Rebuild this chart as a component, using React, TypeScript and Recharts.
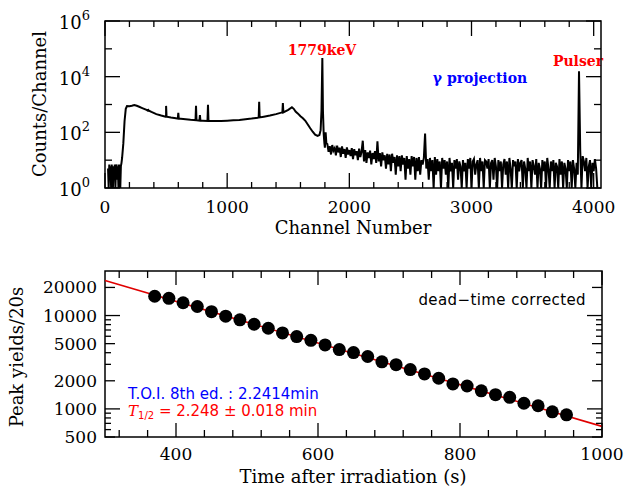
import React from 'react';
import {
  LineChart,
  ComposedChart,
  Line,
  Scatter,
  XAxis,
  YAxis,
  ReferenceArea,
  Customized,
} from 'recharts';

// ---- top panel: gamma spectrum ----
const contChannels = [
  25, 30, 35, 40, 45, 50, 55, 60, 65, 70, 75, 80, 85, 90, 95, 100, 105, 110, 115, 120, 125,
  130, 135, 140, 150, 160, 170, 180, 200, 220, 240,
  260, 280, 300, 340, 380, 420, 460, 500, 540, 580, 620, 660, 700, 750, 800, 850, 900, 950,
  1000, 1050, 1100, 1150, 1200, 1250, 1300, 1350, 1400, 1450, 1500, 1530, 1545, 1560, 1580,
  1600, 1620, 1640, 1660, 1680, 1700, 1720, 1740, 1755, 1765, 1772, 1779, 1784, 1790, 1796,
  1800, 1806, 1812,
];
const contCounts = [
  5, 1, 7, 2, 6, 1, 7, 4, 1, 6, 3, 7, 1, 5, 7, 2, 6, 1, 7, 4, 1,
  6, 8, 12, 40, 250, 700, 880, 860, 900, 960,
  900, 830, 760, 640, 540, 450, 400, 365, 340, 320, 305, 295, 282, 272, 263, 258, 256, 258,
  263, 270, 280, 295, 312, 335, 365, 400, 450, 520, 640, 800, 700, 560, 470,
  380, 320, 260, 190, 140, 105, 82, 74, 80, 120, 600, 47000, 600, 90, 40,
  28, 100, 40,
];

const peakChannels = [355, 500, 600, 745, 777, 843, 1262, 1456];
const peakHeights = [630, 890, 500, 890, 420, 970, 1260, 1120];
const peakBases = [600, 365, 310, 272, 265, 258, 345, 520];

const tailStart = 1820;
const tailStep = 10;
const tailCounts = [
  38, 20, 32, 16, 35, 22, 27, 15, 33, 19,
  28, 13, 31, 17, 25, 12, 29, 16, 23, 14,
  27, 11, 25, 15, 21, 10, 26, 13, 20, 50,
  9, 23, 8, 19, 12, 22, 7, 18, 11, 21,
  8, 48, 9, 18, 6, 19, 10, 15, 5, 17,
  7, 16, 4, 17, 8, 13, 3, 15, 6, 14,
  4, 15, 7, 12, 2, 14, 5, 11, 3, 14,
  6, 13, 2, 12, 4, 13, 3, 10, 7, 12,
  90, 5, 11, 2, 12, 4, 10, 1, 13, 3,
  11, 4, 9, 1, 12, 5, 10, 3, 9, 1,
  12, 4, 8, 1, 10, 5, 11, 2, 9, 6,
  1, 10, 4, 8, 1, 11, 5, 12, 1, 9,
  11, 3, 7, 10, 1, 12, 4, 9, 1, 10,
  9, 5, 11, 1, 8, 10, 2, 12, 6, 1,
  10, 4, 9, 1, 7, 11, 3, 9, 1, 12,
  5, 1, 10, 6, 9, 1, 11, 4, 8, 10,
  1, 9, 5, 1, 12, 4, 9, 1, 10, 6,
  3, 11, 1, 8, 5, 1, 10, 4, 9, 1,
  12, 5, 1, 9, 4, 10, 1, 8, 6, 1,
  11, 3, 9, 1, 8, 5, 1, 10, 4, 9,
  1, 10, 5, 1, 8, 3, 15500, 22, 1, 14,
  9, 4, 12, 1, 6, 10, 1, 8, 4, 11,
  5, 1,
];

const channelTicks = [
  0, 200, 400, 600, 800, 1000, 1200, 1400, 1600, 1800, 2000, 2200, 2400, 2600, 2800, 3000,
  3200, 3400, 3600, 3800, 4000,
];
const countTicks = [1, 10, 100, 1000, 10000, 100000, 1000000];

// ---- bottom panel: decay curve ----
const times = [
  370, 390, 410, 430, 450, 470, 490, 510, 530, 550, 570, 590, 610, 630, 650, 670, 690, 710,
  730, 750, 770, 790, 810, 830, 850, 870, 890, 910, 930, 950,
];
const yields = [
  16100, 15300, 13700, 12500, 11000, 9850, 9000, 8070, 7310, 6520, 5950, 5430, 4850, 4320,
  4010, 3640, 3190, 2980, 2640, 2370, 2130, 1850, 1760, 1560, 1420, 1330, 1150, 1080, 930, 863,
];
const fitTimes = [300, 1000];
const fitYields = [23700, 650];

const timeTicks = [320, 360, 400, 440, 480, 520, 560, 600, 640, 680, 720, 760, 800, 840, 880, 920, 960, 1000];
const timeLabels = [400, 600, 800, 1000];
const yieldTicks = [500, 600, 700, 800, 900, 1000, 2000, 3000, 4000, 5000, 6000, 7000, 8000, 9000, 10000, 20000];
const yieldLabels = [500, 1000, 2000, 5000, 10000, 20000];

const spectrum = [
  ...contChannels.map((c, i) => ({ channel: c, counts: contCounts[i] })),
  ...peakChannels.flatMap((c, i) => [
    { channel: c - 4, counts: peakBases[i] },
    { channel: c, counts: peakHeights[i] },
    { channel: c + 4, counts: peakBases[i] },
  ]),
  ...tailCounts.map((v, i) => ({ channel: tailStart + i * tailStep, counts: v })),
].sort((a, b) => a.channel - b.channel);

const points = times.map((t, i) => ({ t, y: yields[i] }));
const fit = fitTimes.map((t, i) => ({ t, y: fitYields[i] }));

const SERIF = '"DejaVu Serif", serif';
const SANS = '"DejaVu Sans", sans-serif';
const TOP_W = 496;
const TOP_H = 167;
const BOT_W = 497;
const BOT_H = 166;

const TopXTick = ({ x, y, payload }: any) => {
  const v = payload.value;
  const major = v % 1000 === 0;
  const len = major ? 15 : 6;
  return (
    <g>
      <line x1={x} x2={x} y1={y} y2={y - len} stroke="#000" strokeWidth={1.3} />
      <line x1={x} x2={x} y1={y - TOP_H} y2={y - TOP_H + len} stroke="#000" strokeWidth={1.3} />
      {major && (
        <text x={x} y={y + 25} textAnchor="middle" fontFamily={SERIF} fontSize={17} fill="#000">
          {v}
        </text>
      )}
    </g>
  );
};

const TopYTick = ({ x, y, payload }: any) => {
  const e = Math.round(Math.log10(payload.value));
  const major = e % 2 === 0;
  const len = major ? 15 : 7;
  return (
    <g>
      <line x1={x} x2={x + len} y1={y} y2={y} stroke="#000" strokeWidth={1.3} />
      <line x1={x + TOP_W} x2={x + TOP_W - len} y1={y} y2={y} stroke="#000" strokeWidth={1.3} />
      {major && (
        <text x={x - 15} y={y + 8} textAnchor="end" fontFamily={SERIF} fontSize={18} fill="#000">
          10
          <tspan dy={-9} fontSize={13}>
            {e}
          </tspan>
        </text>
      )}
    </g>
  );
};

const BotXTick = ({ x, y, payload }: any) => {
  const v = payload.value;
  const major = timeLabels.includes(v);
  const len = major ? 14 : 7;
  return (
    <g>
      <line x1={x} x2={x} y1={y} y2={y - len} stroke="#000" strokeWidth={1.3} />
      <line x1={x} x2={x} y1={y - BOT_H} y2={y - BOT_H + len} stroke="#000" strokeWidth={1.3} />
      {major && (
        <text x={x} y={y + 23} textAnchor="middle" fontFamily={SERIF} fontSize={17} fill="#000">
          {v}
        </text>
      )}
    </g>
  );
};

const BotYTick = ({ x, y, payload }: any) => {
  const v = payload.value;
  const labeled = yieldLabels.includes(v);
  const decade = v === 1000 || v === 10000;
  const len = decade ? 15 : labeled ? 10 : 6;
  return (
    <g>
      <line x1={x} x2={x + len} y1={y} y2={y} stroke="#000" strokeWidth={1.3} />
      <line x1={x + BOT_W} x2={x + BOT_W - len} y1={y} y2={y} stroke="#000" strokeWidth={1.3} />
      {labeled && (
        <text x={x - 8} y={y + 6} textAnchor="end" fontFamily={SERIF} fontSize={17} fill="#000">
          {v}
        </text>
      )}
    </g>
  );
};

const TopNotes = () => (
  <g>
    <text x={322} y={55} textAnchor="middle" fontFamily={SERIF} fontWeight="bold" fontSize={14} fill="#ff0000">
      1779keV
    </text>
    <text x={578} y={66} textAnchor="middle" fontFamily={SERIF} fontWeight="bold" fontSize={14} fill="#ff0000">
      Pulser
    </text>
    <text x={480} y={83} textAnchor="middle" fontFamily={SERIF} fontWeight="bold" fontSize={14} fill="#0000ff">
      γ projection
    </text>
    <text x={353} y={234} textAnchor="middle" fontFamily={SERIF} fontSize={18} fill="#000">
      Channel Number
    </text>
    <text x={46} y={104} transform="rotate(-90 46 104)" textAnchor="middle" fontFamily={SERIF} fontSize={18} fill="#000">
      Counts/Channel
    </text>
  </g>
);

const BottomNotes = () => (
  <g>
    <text x={586} y={55} textAnchor="end" fontFamily={SANS} fontSize={15} letterSpacing={0.4} fill="#000">
      dead−time corrected
    </text>
    <text x={128} y={149} fontFamily={SANS} fontSize={15} fill="#0000ff">
      T.O.I. 8th ed. : 2.2414min
    </text>
    <text x={128} y={166} fontFamily={SANS} fontSize={15} fill="#ff0000">
      <tspan fontStyle="italic" fontFamily={SERIF}>T</tspan>
      <tspan dy={3} fontSize={10}>1/2</tspan>
      <tspan dy={-3}> = 2.248 ± 0.018 min</tspan>
    </text>
    <text x={353} y={233} textAnchor="middle" fontFamily={SERIF} fontSize={18} fill="#000">
      Time after irradiation (s)
    </text>
    <text x={23} y={107} transform="rotate(-90 23 107)" textAnchor="middle" fontFamily={SERIF} fontSize={18} fill="#000">
      Peak yields/20s
    </text>
  </g>
);

const Dot = (props: any) => <circle cx={props.cx} cy={props.cy} r={6.5} fill="#000" />;

export default function App() {
  return (
    <div style={{ position: 'absolute', left: 0, top: 0, width: 628, height: 487, background: '#fff' }}>
      <div style={{ position: 'absolute', left: 0, top: 0 }}>
        <LineChart width={628} height={245} data={spectrum} margin={{ top: 21, right: 27, bottom: 7, left: 0 }}>
          <XAxis
            dataKey="channel"
            type="number"
            domain={[0, 4060]}
            ticks={channelTicks}
            interval={0}
            height={50}
            tickSize={0}
            tickMargin={0}
            tickLine={false}
            axisLine={false}
            tick={<TopXTick />}
          />
          <YAxis
            type="number"
            scale="log"
            domain={[1, 1000000]}
            allowDataOverflow
            ticks={countTicks}
            interval={0}
            width={105}
            tickSize={0}
            tickMargin={0}
            tickLine={false}
            axisLine={false}
            tick={<TopYTick />}
          />
          <Line
            dataKey="counts"
            type="linear"
            stroke="#000"
            strokeWidth={2}
            dot={false}
            isAnimationActive={false}
          />
          <ReferenceArea x1={0} x2={4060} y1={1} y2={1000000} fill="none" stroke="#000" strokeWidth={1.5} ifOverflow="visible" />
          <Customized component={TopNotes} />
        </LineChart>
      </div>
      <div style={{ position: 'absolute', left: 0, top: 250 }}>
        <ComposedChart width={628} height={237} margin={{ top: 21, right: 26, bottom: 0, left: 0 }}>
          <XAxis
            dataKey="t"
            type="number"
            domain={[300, 1000]}
            ticks={timeTicks}
            interval={0}
            height={50}
            tickSize={0}
            tickMargin={0}
            tickLine={false}
            axisLine={false}
            tick={<BotXTick />}
          />
          <YAxis
            dataKey="y"
            type="number"
            scale="log"
            domain={[500, 30000]}
            allowDataOverflow
            ticks={yieldTicks}
            interval={0}
            width={105}
            tickSize={0}
            tickMargin={0}
            tickLine={false}
            axisLine={false}
            tick={<BotYTick />}
          />
          <Line
            data={fit}
            dataKey="y"
            type="linear"
            stroke="#e00000"
            strokeWidth={1.6}
            dot={false}
            isAnimationActive={false}
          />
          <Scatter data={points} dataKey="y" shape={<Dot />} isAnimationActive={false} />
          <ReferenceArea x1={300} x2={1000} y1={500} y2={30000} fill="none" stroke="#000" strokeWidth={1.5} ifOverflow="visible" />
          <Customized component={BottomNotes} />
        </ComposedChart>
      </div>
    </div>
  );
}
